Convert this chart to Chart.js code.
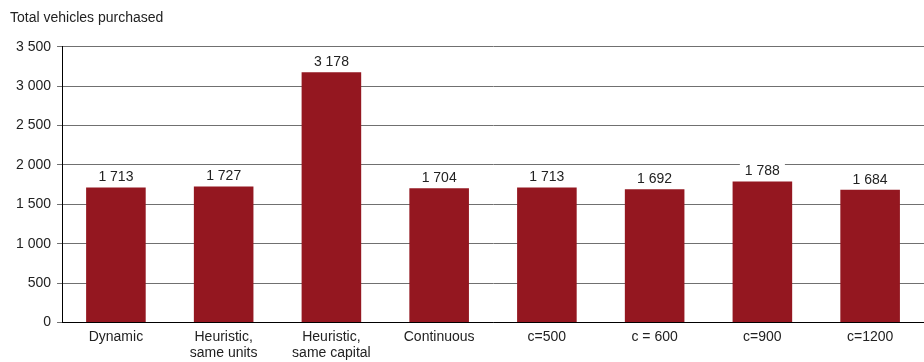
<!DOCTYPE html>
<html><head><meta charset="utf-8">
<script src="https://cdn.jsdelivr.net/npm/chart.js@4/dist/chart.umd.min.js"></script>
<style>html,body{margin:0;padding:0;background:#fff}#wrap{width:924px;height:362px}</style>
</head><body><div id="wrap"><canvas id="c" width="924" height="362"></canvas></div>
<script>
const categories = [["Dynamic"], ["Heuristic,", "same units"], ["Heuristic,", "same capital"], ["Continuous"], ["c=500"], ["c = 600"], ["c=900"], ["c=1200"]];
const vehicles = [1713, 1727, 3178, 1704, 1713, 1692, 1788, 1684];
const chartTitle = "Total vehicles purchased";

const fmt = v => String(Math.round(v)).replace(/\B(?=(\d{3})+(?!\d))/g, " ");
const FONT = "'Liberation Sans', Arial, sans-serif";

const labelPlugin = {
  id: 'barLabels',
  afterDatasetsDraw(chart) {
    const ctx = chart.ctx;
    const meta = chart.getDatasetMeta(0);
    ctx.save();
    ctx.font = "14px " + FONT;
    ctx.textAlign = 'center';
    ctx.textBaseline = 'bottom';
    meta.data.forEach((bar, i) => {
      const t = fmt(vehicles[i]);
      const w = ctx.measureText(t).width;
      const y = bar.y - 3;
      ctx.fillStyle = '#fff';
      ctx.fillRect(bar.x - w/2 - 5, y - 16, w + 10, 16);
      ctx.fillStyle = '#222';
      ctx.fillText(t, bar.x, y);
    });
    ctx.restore();
  }
};

new Chart(document.getElementById('c'), {
  type: 'bar',
  data: { labels: categories, datasets: [{ data: vehicles, backgroundColor: '#941720', borderWidth: 0, categoryPercentage: 1, barPercentage: 0.553 }] },
  options: {
    responsive: false, animation: false,
    layout: { padding: { left: 10, right: -6, top: 0, bottom: -6 } },
    plugins: {
      legend: { display: false }, tooltip: { enabled: false },
      title: { display: true, text: chartTitle, align: 'start', color: '#222', font: { family: FONT, size: 14, weight: 'normal' }, padding: { top: 10, bottom: 20 } }
    },
    scales: {
      x: {
        grid: { display: false, drawTicks: false },
        border: { display: true, color: '#000', width: 1 },
        ticks: { color: '#222', font: { family: FONT, size: 14 }, maxRotation: 0, autoSkip: false, padding: 6 }
      },
      y: {
        min: 0, max: 3500,
        ticks: { stepSize: 500, color: '#222', font: { family: FONT, size: 14 }, padding: 6, callback: v => fmt(v) },
        grid: { color: '#707070', lineWidth: 1, tickLength: 5 },
        border: { display: true, color: '#000', width: 1 }
      }
    }
  },
  plugins: [labelPlugin]
});
</script></body></html>
